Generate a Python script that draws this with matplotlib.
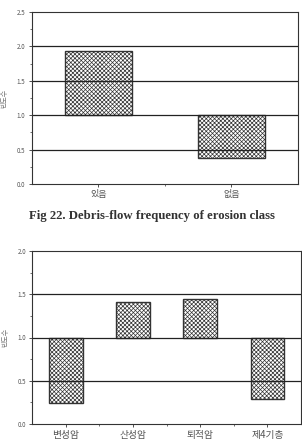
import numpy as np
import matplotlib
matplotlib.use('Agg')
from matplotlib import pyplot as plt

plt.rcParams['font.family'] = ['Noto Sans CJK KR', 'DejaVu Sans']
plt.rcParams['hatch.linewidth'] = 0.5
plt.rcParams['hatch.color'] = '#444444'

# top chart: erosion class
erosion_cats = ['있음', '없음']
erosion_vals = [1.94, 0.38]
# bottom chart: rock type
rock_cats = ['변성암', '산성암', '퇴적암', '제4기층']
rock_vals = [0.24, 1.41, 1.45, 0.29]

caption = 'Fig 22. Debris-flow frequency of erosion class'
ylabel = '빈도수'

W, H = 302, 442
fig = plt.figure(figsize=(W / 100, H / 100), dpi=100)


def panel(rect, cats, vals, ymax, grid, xfs):
    ax = fig.add_axes(rect)
    x = np.arange(1, len(cats) + 1)
    ax.bar(x, np.array(vals) - 1.0, bottom=1.0, width=0.5,
           facecolor='white', edgecolor='#333333', linewidth=1.0,
           hatch='xxxxxxxx', zorder=1)
    for g in grid:
        ax.axhline(g, color='#222222', lw=0.9, zorder=2)
    ax.set_xlim(0.5, len(cats) + 0.5)
    ax.set_ylim(0, ymax)
    ax.set_xticks(x)
    ax.set_xticks(np.arange(1.5, len(cats), 1.0), minor=True)
    ax.set_xticklabels(cats, fontsize=xfs, color='#555555')
    ax.set_yticks(np.arange(0, ymax + 0.01, 0.5))
    ax.set_yticks(np.arange(0.25, ymax, 0.5), minor=True)
    ax.set_yticklabels(['%.1f' % v for v in np.arange(0, ymax + 0.01, 0.5)],
                       fontsize=4.5, color='#555555')
    ax.tick_params(which='major', length=2.5, width=0.6, color='#333333', pad=2)
    ax.tick_params(which='minor', length=1.5, width=0.5, color='#333333')
    for s in ax.spines.values():
        s.set_color('#333333')
        s.set_linewidth(0.8)
    ax.set_ylabel(ylabel, fontsize=5, color='#777777', labelpad=6)
    return ax


panel([31.7 / W, 1 - 184 / H, (298 - 31.7) / W, (184 - 12) / H],
      erosion_cats, erosion_vals, 2.5, [0.5, 1.0, 1.5, 2.0], 6.5)
panel([32.3 / W, 1 - 424 / H, (301 - 32.3) / W, (424 - 251) / H],
      rock_cats, rock_vals, 2.0, [0.5, 1.0, 1.5], 7)

fig.text(152 / W, 1 - 216 / H, caption, ha='center', va='center',
         fontsize=9.2, fontweight='bold', family='Liberation Serif',
         color='#333333')

fig.savefig('out.png', dpi=100)
